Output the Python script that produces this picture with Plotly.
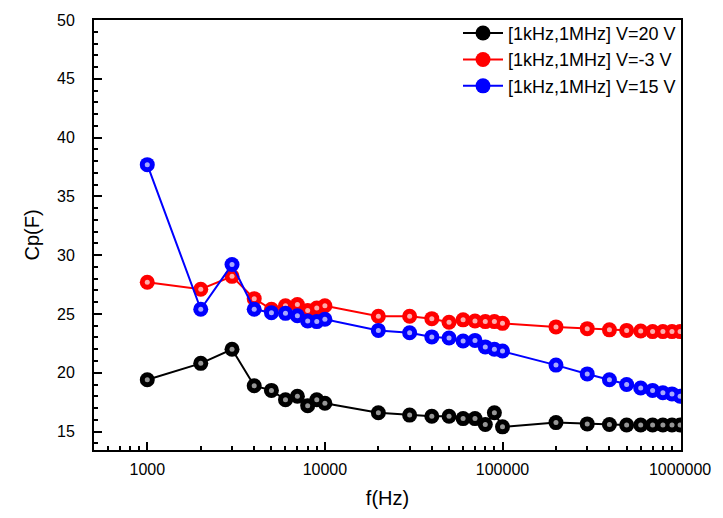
import plotly.graph_objects as go

freq = [1000, 2000, 3000, 4000, 5000, 6000, 7000, 8000, 9000, 10000,
        20000, 30000, 40000, 50000, 60000, 70000, 80000, 90000, 100000,
        200000, 300000, 400000, 500000, 600000, 700000, 800000, 900000, 1000000]

cp_20v = [19.4, 20.8, 22.0, 18.9, 18.5, 17.7, 18.0, 17.2, 17.7, 17.4,
          16.6, 16.4, 16.3, 16.3, 16.1, 16.1, 15.6, 16.6, 15.4,
          15.76, 15.65, 15.6, 15.55, 15.55, 15.55, 15.55, 15.55, 15.55]

cp_m3v = [27.7, 27.1, 28.2, 26.3, 25.4, 25.7, 25.8, 25.3, 25.5, 25.7,
          24.8, 24.8, 24.6, 24.3, 24.5, 24.4, 24.35, 24.35, 24.2,
          23.9, 23.75, 23.65, 23.6, 23.55, 23.5, 23.5, 23.5, 23.5]

cp_15v = [37.7, 25.4, 29.2, 25.4, 25.1, 25.05, 24.85, 24.4, 24.35, 24.55,
          23.6, 23.4, 23.05, 22.95, 22.7, 22.75, 22.2, 22.0, 21.85,
          20.65, 19.9, 19.4, 19.0, 18.7, 18.5, 18.3, 18.2, 18.0]

series_names = ["[1kHz,1MHz] V=20 V", "[1kHz,1MHz] V=-3 V", "[1kHz,1MHz] V=15 V"]
x_tick_vals = [1000, 10000, 100000, 1000000]
x_tick_text = ["1000", "10000", "100000", "1000000"]
y_tick_vals = [15, 20, 25, 30, 35, 40, 45, 50]

FONT = "Liberation Sans, Arial, sans-serif"

styles = [
    ("#000000", "rgba(200,200,200,0.75)"),
    ("#ff0000", "rgba(255,215,215,0.8)"),
    ("#0000ff", "rgba(210,210,255,0.8)"),
]

fig = go.Figure()
for ys, name, (c, hi) in zip([cp_20v, cp_m3v, cp_15v], series_names, styles):
    fig.add_trace(go.Scatter(
        x=freq, y=ys, name=name, mode="lines+markers",
        line=dict(color=c, width=2),
        marker=dict(size=15, color=c, symbol="circle", line=dict(width=0)),
    ))
    fig.add_trace(go.Scatter(
        x=freq, y=ys, mode="markers", showlegend=False, hoverinfo="skip",
        marker=dict(size=5, color=hi, symbol="circle", line=dict(width=0)),
    ))

minor_x = []
for d in [100, 1000, 10000, 100000]:
    for k in range(2, 10):
        minor_x.append(k * d)

fig.update_layout(
    width=723, height=518,
    margin=dict(l=94, r=36, t=15, b=66),
    paper_bgcolor="white", plot_bgcolor="white",
    font=dict(family=FONT, color="black", size=16),
    showlegend=True,
    legend=dict(x=1, y=1.012, xanchor="right", yanchor="top",
                bgcolor="rgba(0,0,0,0)", font=dict(size=18, family=FONT),
                tracegroupgap=0, itemwidth=40),
    xaxis=dict(
        type="log", range=[2.70, 6.005],
        tickmode="array", tickvals=x_tick_vals, ticktext=x_tick_text,
        ticks="inside", ticklen=8, tickwidth=2, tickcolor="black",
        minor=dict(tickmode="array", tickvals=minor_x, ticks="inside",
                   ticklen=4, tickwidth=1.5, tickcolor="black"),
        showline=True, linecolor="black", linewidth=2, mirror=True,
        showgrid=False, zeroline=False,
        tickfont=dict(size=16), ticklabelstandoff=4,
        title=dict(text="f(Hz)", font=dict(size=20), standoff=14),
    ),
    yaxis=dict(
        range=[13.43, 50],
        tickmode="array", tickvals=y_tick_vals,
        ticks="inside", ticklen=8, tickwidth=2, tickcolor="black",
        minor=dict(dtick=1, tick0=0, ticks="inside", ticklen=4,
                   tickwidth=1.5, tickcolor="black"),
        showline=True, linecolor="black", linewidth=2, mirror=True,
        showgrid=False, zeroline=False,
        tickfont=dict(size=16), ticklabelstandoff=14,
        title=dict(text="Cp(F)", font=dict(size=20), standoff=12),
    ),
)

fig.write_html("out.html")
